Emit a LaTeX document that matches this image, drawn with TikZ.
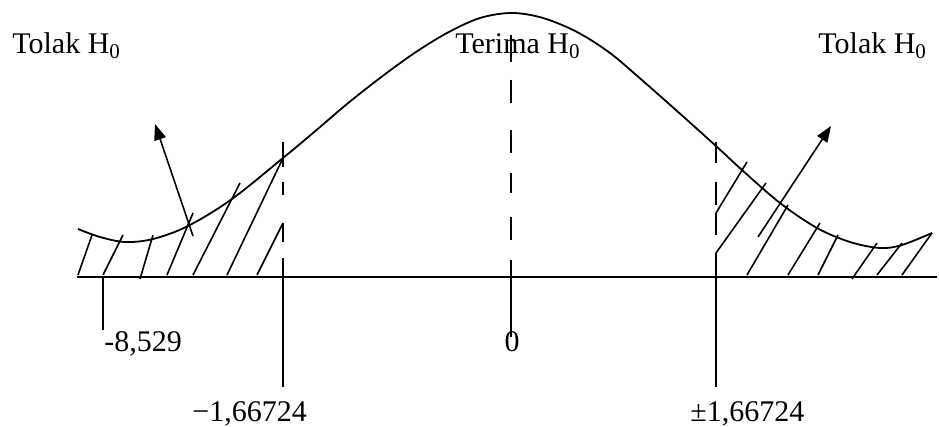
\documentclass[tikz,border=0pt]{standalone}
\usepackage{fontspec}
\setmainfont{Liberation Serif}
\usetikzlibrary{arrows.meta}
\begin{document}
\begin{tikzpicture}[x=0.5pt,y=-0.5pt,
  ln/.style={line width=0.9pt, line cap=butt},
  hatch/.style={line width=0.8pt},
  lbl/.style={font=\fontsize{15pt}{18pt}\selectfont, inner sep=0pt, anchor=base west},
  arr/.style={line width=0.8pt, -{Triangle[length=8pt,width=6pt]}}]
\useasboundingbox (0,0) rectangle (939,427);
% axis
\draw[ln] (77,277) -- (937,277);
% curve
\draw[ln] plot[smooth, tension=0.55] coordinates {
 (78,229) (100,237) (125,242) (153,239) (188,226) (232,199) (283,158)
 (313,133) (347,104) (380,78) (413,54) (447,33) (480,18) (512,13)
 (543,18) (577,32) (610,53) (643,81) (677,111) (716,146) (742,170)
 (780,203) (817,228) (850,242) (880,248) (902,245) (932,233)};
% left dashed boundary
\draw[ln] (283,142) -- (283,167);
\draw[ln] (283,182) -- (283,195);
\draw[ln] (283,223) -- (283,242);
\draw[ln] (283,258) -- (283,387);
% center dashed line
\draw[ln] (511,35) -- (511,62);
\draw[ln] (511,80) -- (511,103);
\draw[ln] (511,130) -- (511,153);
\draw[ln] (511,173) -- (511,193);
\draw[ln] (511,217) -- (511,240);
\draw[ln] (511,260) -- (511,337);
% right dashed boundary
\draw[ln] (716,142) -- (716,163);
\draw[ln] (716,182) -- (716,205);
\draw[ln] (716,213) -- (716,235);
\draw[ln] (716,253) -- (716,387);
% -8,529 tick
\draw[ln] (103,277) -- (103,330);
% left hatching
\draw[hatch] (78,275) -- (92,235);
\draw[hatch] (103,275) -- (123,235);
\draw[hatch] (140,279) -- (153,235);
\draw[hatch] (167,275) -- (193,213);
\draw[hatch] (193,275) -- (240,183);
\draw[hatch] (227,275) -- (283,158);
\draw[hatch] (257,275) -- (283,223);
% right hatching
\draw[hatch] (716,213) -- (747,162);
\draw[hatch] (716,253) -- (766,183);
\draw[hatch] (747,275) -- (788,205);
\draw[hatch] (788,275) -- (820,223);
\draw[hatch] (818,275) -- (838,235);
\draw[hatch] (852,279) -- (877,243);
\draw[hatch] (877,275) -- (902,243);
\draw[hatch] (902,275) -- (932,233);
% arrows
\coordinate (la0) at (193,236);
\coordinate (la1) at (155,124);
\coordinate (ra0) at (758,237);
\coordinate (ra1) at (831,126);
\draw[arr] (la0) -- (la1);
\draw[arr] (ra0) -- (ra1);
% labels
\node[lbl] (tl) at (12,54) {Tolak H\textsubscript{0}};
\node[lbl] (tm) at (455,54) {Terima H\textsubscript{0}};
\node[lbl] (tr) at (818,54) {Tolak H\textsubscript{0}};
\node[lbl] (v1) at (104,352) {-8,529};
\node[lbl, anchor=base] (v0) at (512,352) {0};
\node[lbl] (v2) at (192,422) {−1,66724};
\node[lbl] (v3) at (690,422) {±1,66724};
\end{tikzpicture}
\end{document}
